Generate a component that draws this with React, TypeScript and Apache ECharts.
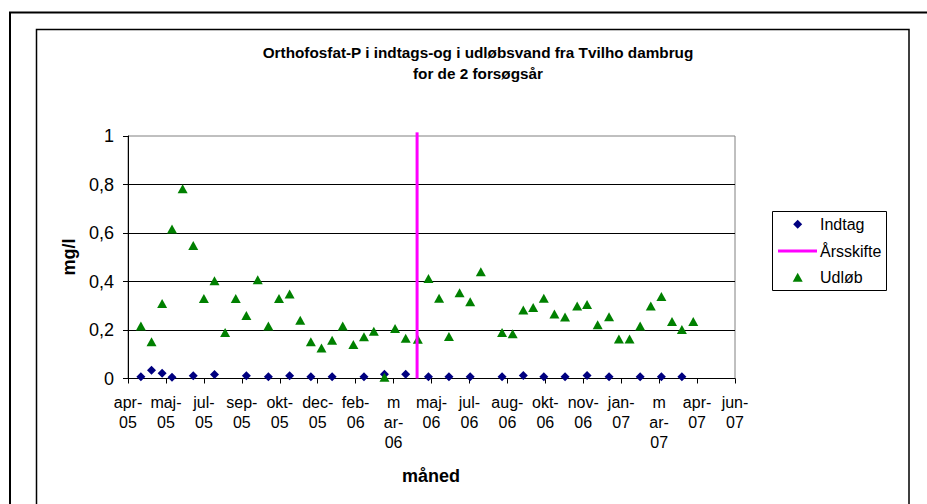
import React, { useEffect, useRef } from "react";
import * as echarts from "echarts";

const TITLE_LINES = ["Orthofosfat-P i indtags-og i udløbsvand fra Tvilho dambrug", "for de 2 forsøgsår"];
const Y_NAME = "mg/l";
const X_NAME = "måned";
const LEGEND_NAMES = ["Indtag", "Årsskifte", "Udløb"];
const MONTHS = ["jan", "feb", "mar", "apr", "maj", "jun", "jul", "aug", "sep", "okt", "nov", "dec"];

// x values are Excel date serials
const X_MIN = 38450;
const X_MAX = 39250;
const X_STEP = 50;

const indtagDates = [
  38467, 38481, 38495, 38508, 38536, 38564, 38606, 38635, 38663, 38691, 38719, 38761, 38788,
  38816, 38846, 38873, 38901, 38943, 38971, 38998, 39026, 39055, 39084, 39125, 39153, 39180,
];
const indtagValues = [
  0.007, 0.034, 0.022, 0.005, 0.011, 0.016, 0.011, 0.007, 0.011, 0.007, 0.007, 0.007, 0.018,
  0.018, 0.007, 0.007, 0.007, 0.007, 0.012, 0.007, 0.007, 0.012, 0.007, 0.007, 0.007, 0.007,
];

const udlobDates = [
  38467, 38481, 38495, 38508, 38522, 38536, 38550, 38564, 38578, 38592, 38606, 38621, 38635,
  38649, 38663, 38677, 38691, 38705, 38719, 38733, 38747, 38761, 38774, 38788, 38802, 38816,
  38832, 38846, 38860, 38873, 38887, 38901, 38915, 38943, 38957, 38971, 38984, 38998, 39012,
  39026, 39042, 39055, 39069, 39084, 39097, 39111, 39125, 39139, 39153, 39167, 39180, 39195,
];
const udlobValues = [
  0.217, 0.152, 0.309, 0.617, 0.782, 0.548, 0.33, 0.403, 0.19, 0.33, 0.26, 0.407, 0.217,
  0.33, 0.348, 0.24, 0.152, 0.126, 0.158, 0.217, 0.14, 0.172, 0.195, 0.005, 0.206, 0.166,
  0.162, 0.412, 0.331, 0.173, 0.354, 0.316, 0.44, 0.19, 0.185, 0.282, 0.293, 0.331, 0.266,
  0.254, 0.299, 0.305, 0.222, 0.255, 0.163, 0.163, 0.217, 0.299, 0.338, 0.235, 0.202, 0.235,
];

const aarsskifteDates = [38831, 38831];
const aarsskifteValues = [0, 1.015];

const FONT = "Arial, 'Liberation Sans', sans-serif";
const C_INDTAG = "#000080";
const C_AARS = "#FF00FF";
const C_UDLOB = "#008000";

function serialLabel(serial: number): string {
  const d = new Date(Date.UTC(1899, 11, 30) + Math.round(serial) * 86400000);
  const m = MONTHS[d.getUTCMonth()];
  const yy = String(d.getUTCFullYear() % 100).padStart(2, "0");
  if (m === "mar") return "m\nar-\n" + yy;
  return m + "-\n" + yy;
}

export default function App() {
  const ref = useRef<HTMLDivElement>(null);
  useEffect(() => {
    if (!ref.current) return;
    const chart = echarts.init(ref.current, undefined, { renderer: "svg" });
    const zip = (xs: number[], ys: number[]) => xs.map((x, i) => [x, ys[i]]);

    // legend drawn as graphic
    const lgX = 797.7;
    const lgY = [224.3, 251, 277.3];
    const textX = 820;
    const legendGraphic: any[] = [
      {
        type: "rect",
        silent: true,
        shape: { x: 772.5, y: 211.5, width: 114, height: 79 },
        style: { fill: "#fff", stroke: "#000", lineWidth: 1 },
      },
      {
        type: "polygon",
        silent: true,
        shape: {
          points: [
            [lgX, lgY[0] - 4.5],
            [lgX + 4.5, lgY[0]],
            [lgX, lgY[0] + 4.5],
            [lgX - 4.5, lgY[0]],
          ],
        },
        style: { fill: C_INDTAG },
      },
      {
        type: "line",
        silent: true,
        shape: { x1: 778, y1: lgY[1], x2: 817, y2: lgY[1] },
        style: { stroke: C_AARS, lineWidth: 3 },
      },
      {
        type: "polygon",
        silent: true,
        shape: {
          points: [
            [lgX, lgY[2] - 4.5],
            [lgX + 5, lgY[2] + 4.5],
            [lgX - 5, lgY[2] + 4.5],
          ],
        },
        style: { fill: C_UDLOB },
      },
      ...LEGEND_NAMES.map((n, i) => ({
        type: "text",
        silent: true,
        x: textX,
        y: lgY[i],
        style: {
          text: n,
          fontFamily: FONT,
          fontSize: 16,
          fill: "#000",
          align: "left",
          verticalAlign: "middle",
        },
      })),
    ];

    chart.setOption({
      animation: false,
      backgroundColor: "#fff",
      title: {
        text: TITLE_LINES.join("\n"),
        left: 473,
        top: 37,
        textAlign: "center",
        textStyle: { fontFamily: FONT, fontSize: 15.3, fontWeight: "bold", color: "#000", lineHeight: 21 },
      },
      grid: {
        left: 128,
        top: 136,
        width: 607,
        height: 242.5,
        show: true,
        borderColor: "#808080",
        borderWidth: 1,
        backgroundColor: "transparent",
      },
      legend: { show: false, data: LEGEND_NAMES },
      xAxis: {
        type: "value",
        min: X_MIN,
        max: X_MAX,
        interval: X_STEP,
        axisLine: { show: true, onZero: false, lineStyle: { color: "#000", width: 1 } },
        axisTick: { show: true, inside: false, length: 5, lineStyle: { color: "#000" } },
        splitLine: { show: false },
        axisLabel: {
          show: true,
          margin: 14,
          color: "#000",
          fontFamily: FONT,
          fontSize: 16,
          lineHeight: 20,
          showMinLabel: true,
          showMaxLabel: true,
          hideOverlap: false,
          formatter: (v: number) => serialLabel(v),
        },
      },
      yAxis: {
        type: "value",
        min: 0,
        max: 1,
        interval: 0.2,
        axisLine: { show: true, lineStyle: { color: "#000", width: 1 } },
        axisTick: { show: true, inside: false, length: 5, lineStyle: { color: "#000" } },
        splitLine: { show: true, showMaxLine: false, lineStyle: { color: "#000", width: 1 } },
        axisLabel: {
          margin: 14,
          color: "#000",
          fontFamily: FONT,
          fontSize: 18,
          formatter: (v: number) => String(Math.round(v * 10) / 10).replace(".", ","),
        },
      },
      graphic: [
        {
          type: "rect",
          silent: true,
          z: 100,
          shape: { x: 10, y: 12.5, width: 1000, height: 600 },
          style: { fill: "none", stroke: "#000", lineWidth: 2 },
        },
        {
          type: "rect",
          silent: true,
          z: 100,
          shape: { x: 36.5, y: 29.5, width: 872.5, height: 600 },
          style: { fill: "none", stroke: "#000", lineWidth: 1.5 },
        },
        {
          type: "text",
          x: 69,
          y: 257,
          rotation: Math.PI / 2,
          style: {
            text: Y_NAME,
            fontFamily: FONT,
            fontSize: 18,
            fontWeight: "bold",
            fill: "#000",
            align: "center",
            verticalAlign: "middle",
          },
        },
        {
          type: "text",
          x: 431,
          y: 476,
          style: {
            text: X_NAME,
            fontFamily: FONT,
            fontSize: 18,
            fontWeight: "bold",
            fill: "#000",
            align: "center",
            verticalAlign: "middle",
          },
        },
        ...legendGraphic,
      ],
      series: [
        {
          name: "Indtag",
          type: "scatter",
          symbol: "diamond",
          symbolSize: 9,
          z: 2,
          itemStyle: { color: C_INDTAG, opacity: 1 },
          data: zip(indtagDates, indtagValues),
        },
        {
          name: "Årsskifte",
          type: "line",
          symbol: "none",
          clip: false,
          z: 4,
          lineStyle: { color: C_AARS, width: 3 },
          itemStyle: { color: C_AARS },
          data: zip(aarsskifteDates, aarsskifteValues),
        },
        {
          name: "Udløb",
          type: "scatter",
          symbol: "triangle",
          symbolSize: [10, 9],
          z: 3,
          itemStyle: { color: C_UDLOB, opacity: 1 },
          data: zip(udlobDates, udlobValues),
        },
      ],
    });
    return () => chart.dispose();
  }, []);
  return (
    <div
      ref={ref}
      style={{ position: "absolute", left: 0, top: 0, width: 927, height: 504, background: "#fff" }}
    />
  );
}
